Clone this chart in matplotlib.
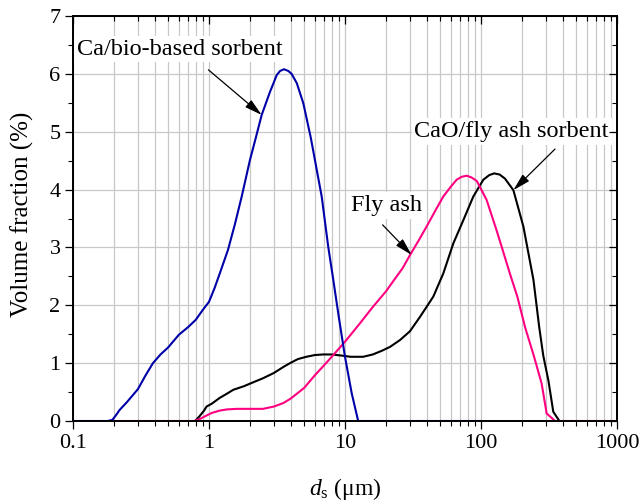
import matplotlib
matplotlib.use("Agg")
import matplotlib.pyplot as plt
from matplotlib.ticker import FuncFormatter, MultipleLocator, LogLocator

plt.rcParams['font.family'] = ['Liberation Serif', 'DejaVu Serif']
plt.rcParams['mathtext.fontset'] = 'custom'
plt.rcParams['mathtext.rm'] = 'Liberation Serif'
plt.rcParams['mathtext.it'] = 'Liberation Serif:italic'

# Particle size distributions (volume fraction, %) vs. particle diameter (um)
bio_d = [0.1, 0.18, 0.195, 0.21, 0.22, 0.25, 0.3, 0.34, 0.387, 0.44, 0.5, 0.6, 0.7,
         0.8, 0.9, 1.0, 1.1, 1.2, 1.38, 1.55, 1.74, 2.0, 2.2, 2.44, 2.81, 3.15, 3.33,
         3.56, 3.83, 4.05, 4.42, 4.94, 5.6, 6.74, 7.53, 8.2, 9.0, 10.0, 11.2, 12.5,
         13.5, 100.0]
bio_v = [0, 0, 0.02, 0.12, 0.19, 0.33, 0.55, 0.78, 1.0, 1.15, 1.27, 1.49, 1.62,
         1.75, 1.92, 2.06, 2.3, 2.55, 2.96, 3.40, 3.88, 4.51, 4.88, 5.29, 5.69, 5.98, 6.05,
         6.08, 6.05, 6.0, 5.84, 5.49, 4.9, 3.88, 3.01, 2.44, 1.8, 1.11, 0.48, 0.0,
         0.0, 0.0]

flyash_d = [0.2, 0.78, 0.85, 0.95, 1.05, 1.2, 1.35, 1.6, 2.0, 2.5, 3.0, 3.52, 4.0,
            5.0, 6.0, 7.0, 8.2, 10.0, 12.9, 16.0, 20.0, 23.0, 26.5, 30.1, 35.0, 39.8,
            46.0, 52.8, 60.0, 66.2, 72.0, 78.5, 85.0, 93.0, 100.0, 110.0, 120.0, 130.0,
            145.0, 163.0, 185.0, 211.0, 245.0, 279.0, 304.0, 332.0, 350.0, 1000.0]
flyash_v = [0, 0, 0.03, 0.09, 0.14, 0.18, 0.20, 0.21, 0.21, 0.21, 0.25, 0.31, 0.39,
            0.57, 0.79, 0.96, 1.14, 1.37, 1.69, 1.97, 2.24, 2.44, 2.64, 2.87, 3.13, 3.36,
            3.63, 3.88, 4.05, 4.17, 4.22, 4.24, 4.21, 4.15, 4.01, 3.82, 3.55, 3.30,
            2.94, 2.55, 2.15, 1.62, 1.12, 0.65, 0.13, 0.05, 0.0, 0.0]

cao_d = [0.79, 0.85, 0.92, 0.96, 1.05, 1.2, 1.35, 1.51, 1.8, 2.12, 2.5, 3.0, 3.5,
         3.94, 4.5, 5.2, 6.0, 6.9, 8.0, 9.5, 11.0, 13.6, 16.0, 18.5, 21.4, 25.4, 30.0,
         35.6, 40.0, 44.6, 52.8, 62.6, 74.1, 87.8, 104.0, 115.0, 125.0, 137.0, 150.0,
         173.0, 205.0, 243.0, 268.0, 287.0, 313.0, 340.0, 377.0]
cao_v = [0, 0.08, 0.18, 0.25, 0.30, 0.40, 0.47, 0.54, 0.60, 0.67, 0.74, 0.83, 0.93,
         1.0, 1.07, 1.11, 1.14, 1.15, 1.15, 1.13, 1.11, 1.11, 1.15, 1.21, 1.28, 1.40, 1.55,
         1.80, 1.98, 2.15, 2.55, 3.07, 3.47, 3.88, 4.17, 4.25, 4.28, 4.26, 4.19,
         3.99, 3.36, 2.44, 1.62, 1.13, 0.70, 0.16, 0.0]

x_ticks = [0.1, 1, 10, 100, 1000]
y_ticks = [0, 1, 2, 3, 4, 5, 6, 7]

fig = plt.figure(figsize=(6.43, 5.03), dpi=100)
ax = fig.add_axes([73 / 643, 82 / 503, 544 / 643, 405 / 503])

ax.plot(cao_d, cao_v, color='black', lw=1.5, zorder=3)
ax.plot(flyash_d, flyash_v, color='#FF0080', lw=1.5, zorder=4)
ax.plot(bio_d, bio_v, color='#0000A8', lw=1.5, zorder=5)

ax.set_xscale('log')
ax.set_xlim(0.1, 1000)
ax.set_ylim(0, 7)
ax.set_xticks(x_ticks)
ax.xaxis.set_major_formatter(FuncFormatter(lambda v, p: f'{v:g}'))
ax.xaxis.set_minor_locator(LogLocator(base=10, subs=range(2, 10), numticks=20))
ax.xaxis.set_minor_formatter(FuncFormatter(lambda v, p: ''))
ax.set_yticks(y_ticks)
ax.yaxis.set_minor_locator(MultipleLocator(0.5))

ax.set_axisbelow(True)
ax.grid(which='both', axis='x', color='#c8c8c8', lw=0.9)
ax.grid(which='major', axis='y', color='#c8c8c8', lw=0.9)

for s in ax.spines.values():
    s.set_linewidth(1.1)

ax.tick_params(which='major', direction='out', length=6, width=0.9, labelsize=16, pad=3)
ax.tick_params(which='minor', direction='out', length=3.5, width=0.8)

# inward ticks on top and right
top = ax.twiny()
top.set_xscale('log')
top.set_xlim(ax.get_xlim())
top.set_xticks(x_ticks)
top.xaxis.set_minor_locator(LogLocator(base=10, subs=range(2, 10), numticks=20))
top.tick_params(which='major', direction='in', length=6, width=0.9, labeltop=False)
top.tick_params(which='minor', direction='in', length=3.5, width=0.8, labeltop=False)
right = ax.twinx()
right.set_ylim(ax.get_ylim())
right.set_yticks(y_ticks)
right.yaxis.set_minor_locator(MultipleLocator(0.5))
right.tick_params(which='major', direction='in', length=6, width=0.9, labelright=False)
right.tick_params(which='minor', direction='in', length=3.5, width=0.8, labelright=False)
for a in (top, right):
    for s in a.spines.values():
        s.set_linewidth(1.1)

ax.set_xlabel(r'$d_\mathrm{s}$ (μm)', fontsize=17)
ax.xaxis.set_label_coords(0.5, -0.135)
ax.set_ylabel('Volume fraction (%)', fontsize=18)
ax.yaxis.set_label_coords(-0.071, 0.51)

box = dict(facecolor='white', edgecolor='none', pad=2)
arrow = dict(arrowstyle='-|>,head_length=0.75,head_width=0.2', color='black',
             lw=0.9, shrinkA=0, shrinkB=0, mutation_scale=14)

ax.text(0.612, 6.33, 'Ca/bio-based sorbent', fontsize=17.5, ha='center',
        va='baseline', bbox=box, zorder=6)
ax.text(20.2, 3.63, 'Fly ash', fontsize=17.5, ha='center', va='baseline',
        bbox=box, zorder=6)
ax.text(168, 4.91, 'CaO/fly ash sorbent', fontsize=17.5, ha='center',
        va='baseline', bbox=box, zorder=6)

ax.annotate('', xy=(2.44, 5.29), xytext=(0.99, 6.07), arrowprops=arrow, zorder=7)
ax.annotate('', xy=(30.9, 2.87), xytext=(18.9, 3.39), arrowprops=arrow, zorder=7)
ax.annotate('', xy=(173, 3.99), xytext=(350, 4.70), arrowprops=arrow, zorder=7)

fig.savefig('out.png', dpi=100)
